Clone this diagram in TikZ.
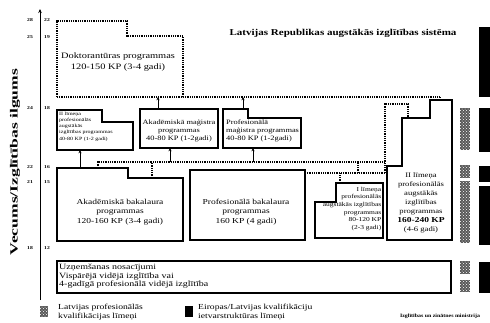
\documentclass[tikz,border=0pt]{standalone}
\usepackage{fontspec}
\setmainfont{Liberation Serif}[FakeStretch=1.25]
\usetikzlibrary{patterns,arrows.meta}
\newcommand\fitw[2]{\resizebox{#1}{\height}{#2}}
\begin{document}
\begin{tikzpicture}[x=1pt,y=-1pt,
  boxline/.style={line width=1.3pt, line join=miter},
  dotl/.style={line width=1.1pt, dash pattern=on 0.9pt off 0.9pt},
  uparr/.style={line width=0.8pt, -{Stealth[length=3.2pt,width=3pt]}},
  hatchbase/.style={fill=black!65},
  hatch/.style={pattern=crosshatch dots, pattern color=white},
  blk/.style={fill=black},
  txt/.style={inner sep=0pt, align=center},
  ticklab/.style={font=\bfseries\fontsize{4.5}{5}\selectfont, inner sep=0pt}
]
\useasboundingbox (0,0) rectangle (490,322);
\fill[white] (0,0) rectangle (490,322);

% axis
\coordinate (ax0) at (40,300);
\coordinate (ax1) at (40,9);
\draw[line width=1pt,-{Stealth[length=4pt,width=3.5pt]}] (ax0) -- (ax1);
\foreach \y/\a/\b in {20/28/22, 37/25/19, 108/24/18, 167/22/16, 182/21/15, 248/18/12}{
  \node[ticklab] at (30,\y) {\a};
  \node[ticklab] at (47,\y) {\b};
}
\node[rotate=90, inner sep=0pt, font=\bfseries\fontsize{11}{11}\selectfont] (ylab) at (15,162) {\fitw{186pt}{Vecums/Izglītības ilgums}};

% title
\node[inner sep=0pt, font=\bfseries\fontsize{9}{9}\selectfont] (title) at (343,33) {\fitw{227pt}{Latvijas Republikas augstākās izglītības sistēma}};

% doctoral
\draw[dotl] (57,97) -- (57,21) -- (127,21) -- (127,36) -- (183,36) -- (183,97) -- cycle;
\node[txt, font=\fontsize{8.3}{11}\selectfont] (doc) at (118,62) {Doktorantūras programmas\\120-150 KP (3-4 gadi)};
\coordinate (dR) at (183,97);
\coordinate (dE) at (440,97);
\coordinate (IIt) at (440,100);
\draw[dotl] (dR) -- (dE) -- (IIt);

% level 2 boxes
\draw[boxline] (57,110) -- (102,110) -- (102,122) -- (133,122) -- (133,150) -- (57,150) -- cycle;
\node[txt, align=left, anchor=north west, font=\fontsize{4.8}{6.3}\selectfont] (boxA) at (59,111.5)
  {II līmeņa\\profesionālās\\augstākās\\izglītības programmas\\40-80 KP (1-2 gadi)};
\draw[boxline] (140,109) rectangle (218,148);
\node[txt, font=\fontsize{6.7}{8}\selectfont] (boxB) at (179,131) {Akadēmiskā maģistra\\programmas\\40-80 KP (1-2gadi)};
\draw[boxline] (223,109) -- (248,109) -- (248,118) -- (301,118) -- (301,148) -- (223,148) -- cycle;
\node[txt, align=left, anchor=west, font=\fontsize{6.7}{8}\selectfont] (boxC) at (226,131) {Profesionālā\\maģistra programmas\\40-80 KP (1-2gadi)};

% arrows to doctoral line
\coordinate (Bt) at (158,109); \coordinate (Bl) at (158,97);
\coordinate (Ct) at (243,109); \coordinate (Cl) at (243,97);
\draw[uparr] (Bt) -- (Bl);
\draw[uparr] (Ct) -- (Cl);

% lower connector lines
\coordinate (L1a) at (98,168); \coordinate (L1b) at (98,162); \coordinate (L1c) at (385,162);
\draw[dotl] (L1a) -- (L1b) -- (L1c);
\coordinate (V1) at (385,173); \coordinate (V2) at (385,104); \coordinate (V3) at (408,104); \coordinate (V4) at (408,118);
\draw[dotl] (V1) -- (V2) -- (V3) -- (V4);
\coordinate (L2a) at (305,173);
\draw[dotl, line width=1.4pt] (L2a) -- (V1);
\coordinate (T1) at (358,173); \coordinate (T2) at (358,162);
\draw[dotl] (T1) -- (T2);
\coordinate (Ia) at (340,183); \coordinate (Ib) at (340,173);
\draw[dotl] (Ia) -- (Ib);
\coordinate (S1) at (152,178); \coordinate (S2) at (152,162);
\draw[dotl] (S1) -- (S2);

% arrows up to level 2
\coordinate (A1) at (80,168); \coordinate (A2) at (80,150);
\draw[uparr] (A1) -- (A2);
\coordinate (B1) at (170,162); \coordinate (B2) at (170,148);
\draw[uparr] (B1) -- (B2);
\coordinate (C1) at (253,162); \coordinate (C2) at (253,148);
\draw[uparr] (C1) -- (C2);

% bottom row
\draw[boxline] (57,168) -- (128,168) -- (128,178) -- (183,178) -- (183,241) -- (57,241) -- cycle;
\node[txt, font=\fontsize{7.6}{9.5}\selectfont] (ab) at (120,212) {Akadēmiskā bakalaura\\programmas\\120-160 KP (3-4 gadi)};
\draw[boxline] (190,170) rectangle (305,240);
\node[txt, font=\fontsize{7.6}{9.5}\selectfont] (pb) at (246,212) {Profesionālā bakalaura\\programmas\\160 KP (4 gadi)};
\draw[boxline] (315,238) -- (315,202) -- (336,202) -- (336,183) -- (383,183) -- (383,238) -- cycle;
\node[txt, align=right, anchor=north east, font=\fontsize{6}{7.6}\selectfont] (Ibox) at (381.5,187)
  {I līmeņa\\profesionālās\\augstākās izglītības\\programmas\\80-120 KP\\(2-3 gadi)};
\draw[boxline] (387,240) -- (387,166) -- (402,166) -- (402,118) -- (430,118) -- (430,100) -- (452,100) -- (452,240) -- cycle;
\node[txt, font=\fontsize{6.9}{8.9}\selectfont] (IIbox) at (421,203)
  {II līmeņa\\profesionālās\\augstākās\\izglītības\\programmas\\{\bfseries\fontsize{7.6}{8.9}\selectfont 160-240 KP}\\(4-6 gadi)};

% entrance
\draw[boxline] (57,261) rectangle (451,293);
\node[txt, align=left, anchor=north west, font=\fontsize{8}{8.5}\selectfont] (entr) at (59,264)
  {Uzņemšanas nosacījumi\\Vispārējā vidējā izglītība vai\\4-gadīgā profesionālā vidējā izglītība};

% legend
\fill[hatchbase] (40,306) rectangle (48,317);
\fill[hatch] (40,306) rectangle (48,317);
\node[txt, align=left, anchor=north west, font=\fontsize{7.7}{9}\selectfont] (leg1) at (58,303.5) {Latvijas profesionālās\\kvalifikācijas līmeņi};
\fill[blk] (185,306) rectangle (193,317);
\node[txt, align=left, anchor=north west, font=\fontsize{7.7}{9}\selectfont] (leg2) at (198,303.5) {Eiropas/Latvijas kvalifikāciju\\ietvarstruktūras līmeņi};
\node[inner sep=0pt, font=\bfseries\fontsize{5}{5}\selectfont] (src) at (440,316) {\fitw{80pt}{Izglītības un zinātnes ministrija}};

% right bars
\foreach \a/\b in {108/150, 165/178, 181/243, 261/274, 280/292}{
  \fill[hatchbase] (460,\a) rectangle (470,\b);
  \fill[hatch] (460,\a) rectangle (470,\b);
}
\foreach \a/\b in {27/97, 108/152, 166/182, 186/245, 262/293}{
  \fill[blk] (479,\a) rectangle (490,\b);
}
\end{tikzpicture}
\end{document}
